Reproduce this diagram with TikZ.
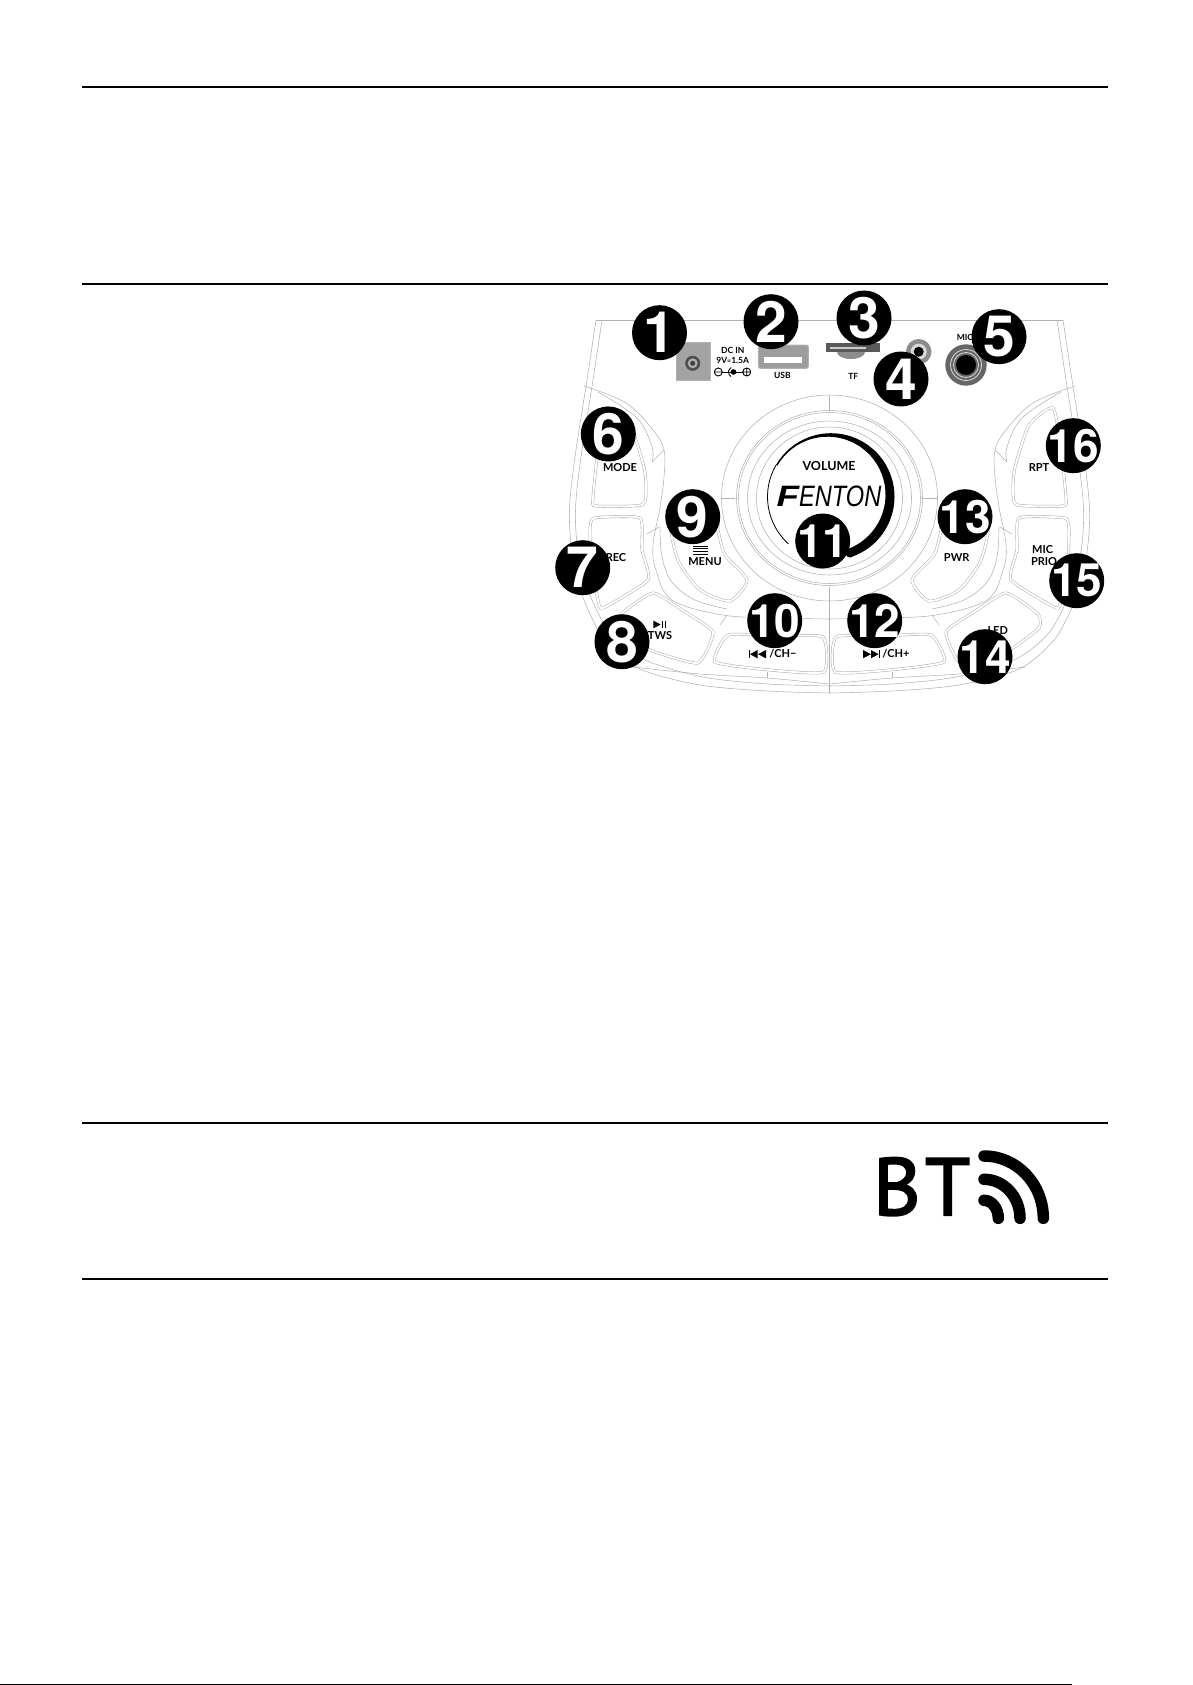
\documentclass[tikz,border=0pt]{standalone}
\usepackage{fontspec}
\usepackage{tikz}
\usetikzlibrary{shapes}
\setmainfont{Lato}
\newfontfamily\digitfont{TeX Gyre Heros}
\newfontfamily\logofont{Liberation Sans}
\newfontfamily\btfont[FakeBold=2.5]{PT Sans}
\definecolor{panelgray}{gray}{0.7}
\definecolor{jackgray}{gray}{0.55}
\tikzset{
  panel/.style={draw=panelgray,line width=0.55pt},
  btn/.style={draw=panelgray,line width=0.55pt,double=white,double distance=1.8pt},
  rulebar/.style={draw=black,line width=2pt},
  badge/.style={shape=circle,fill=black,text=white,inner sep=0pt,minimum size=55pt,font=\digitfont\bfseries\fontsize{57}{57}\selectfont},
  badgetwo/.style={badge,inner sep=-6pt,font=\digitfont\bfseries\fontsize{46}{46}\selectfont},
  lbl/.style={inner sep=0pt,font=\bfseries\fontsize{11}{13}\selectfont},
  smalllbl/.style={inner sep=0pt,font=\bfseries\fontsize{8.5}{10}\selectfont},
  wave/.style={draw=black,line width=11.5pt,line cap=round}
}
% one half of the front panel, used twice
\newcommand{\halfpanel}{
  \draw[panel] plot[smooth,tension=.5] coordinates {(596,320) (587,380) (576,450) (570,500) (570,533) (575,570) (586,605) (605,640) (640,669) (700,685) (767,691) (829.5,693)};
  \draw[panel] plot[smooth,tension=.5] coordinates {(602,320) (593,380) (582,450) (576,500) (576,533) (581,568) (592,600) (611,634) (645,660) (703,677) (767,684) (829.5,686)};
  \draw[panel] plot[smooth,tension=.5] coordinates {(633,667) (700,674) (767,678) (829.5,684)};
  \draw[panel] plot[smooth,tension=.6] coordinates {(584,386) (626,403) (653,430) (664,450) (664,477) (660,507) (653,545) (656,570) (672,600) (723,615) (780,618) (829.5,619)};
  \draw[panel] plot[smooth,tension=.6] coordinates {(598,392) (637,418) (652,447) (652,462)};
  \draw[panel] plot[smooth,tension=.6] coordinates {(660,527) (662,557) (672,582) (695,600) (727,609)};
  \draw[panel] (652,462) -- (664,450);
  \draw[panel] (647,534) -- (659,527);
  \draw[panel] (720,625) -- (727,615);
  \draw[panel] (767,678) -- (767,672);
  \draw[btn] plot[smooth cycle,tension=.35] coordinates {(606,408) (630,425) (644,467) (646,490) (642,505) (596,506) (593,498) (598,450)};
  \draw[btn] plot[smooth cycle,tension=.3] coordinates {(594,518) (640,518) (642,550) (648,580) (603,608) (598,600) (591,560) (590,530)};
  \draw[btn] plot[smooth cycle,tension=.3] coordinates {(653,593) (685,612) (713,632) (698,663) (650,650) (620,628) (621,614)};
  \draw[btn] plot[smooth cycle,tension=.3] coordinates {(728,635) (775,636) (823,637) (824,672) (770,670) (715,662)};
  \draw[btn] plot[smooth cycle,tension=.4] coordinates {(672,520) (678,560) (700,590) (730,601) (747,580) (725,555) (718,530) (716,510)};
}

\begin{document}
\begin{tikzpicture}[x=1pt,y=-1pt]
  \useasboundingbox (0,0) rectangle (1192,1685);

  % page rules
  \draw[rulebar] (82,87) -- (1108,87);
  \draw[rulebar] (82,284) -- (1108,284);
  \draw[rulebar] (82,1123) -- (1108,1123);
  \draw[rulebar] (82,1279) -- (1108,1279);
  \fill[black] (0,1684) rectangle (1072,1685);

  % panel outline
  \draw[panel,line width=0.9pt] (596,320) -- (1063,320);
  \halfpanel
  \begin{scope}[xshift=1659pt,xscale=-1]
    \halfpanel
  \end{scope}

  % volume knob
  \draw[panel] (829.5,498) ellipse[x radius=108,y radius=103];
  \draw[panel] (829.5,498) ellipse[x radius=93,y radius=87.5];
  \draw[panel] (829.5,498) ellipse[x radius=91,y radius=85.5];
  \draw[panel] (829.5,498) ellipse[x radius=82,y radius=77];
  \draw[panel] (829.5,498) ellipse[x radius=73,y radius=71];
  \draw[panel] (829.5,396) -- (829.5,411);
  \draw[panel] (829.5,587) -- (829.5,693);
  \draw[panel] (722,498) -- (735,498);
  \draw[panel] (923,498) -- (937,498);
  \fill[black] (852.7,556.4) arc[start angle=70,end angle=-150,radius=63.5] -- (777.3,465.7) arc[start angle=-150,end angle=70,radius=58] -- cycle;
  \fill[black] (850,553) circle[radius=4.6];
  \draw[black,line width=0.8pt] (776,465) arc[start angle=-150,end angle=-228,radius=63.5];
  \node[lbl,font=\bfseries\fontsize{12.5}{14}\selectfont] (volume) at (829,465.7) {VOLUME};
  \node[inner sep=0pt,font=\logofont\itshape\fontsize{29.5}{30}\selectfont] (logo) at (829,496.7) {\scalebox{1.25}[1]{\bfseries F}\scalebox{.8}[1]{ENTON}};

  % sockets along the top
  \draw[fill=jackgray!80,draw=panelgray,line width=1pt] (676,342) rectangle (710.7,380);
  \fill[black!70] (692.7,363.3) circle[radius=7.5];
  \fill[jackgray!70] (692.7,363.3) circle[radius=5];
  \fill[black!75] (692.7,363.3) circle[radius=2.5];
  \node[smalllbl] (dcin) at (732.7,350) {DC IN};
  \node[smalllbl] (dcvolt) at (732.7,360.5) {9V{\fontsize{7}{8}\selectfont=}1.5A};
  \draw[black,line width=0.9pt] (718.3,372) circle[radius=4] (714.3,372) -- (722.3,372);
  \draw[black,line width=0.9pt] (746.7,372) circle[radius=4] (742.7,372) -- (750.7,372) (746.7,368) -- (746.7,376);
  \draw[black,line width=0.9pt] (722.3,372) -- (742.7,372);
  \fill[black] (733.5,372) circle[radius=2.8];
  \draw[black,line width=0.9pt] (731,367.5) arc[start angle=-120,end angle=-240,radius=5.2];

  \draw[fill=jackgray!85,draw=panelgray,line width=1pt,rounded corners=2pt] (758.3,345) rectangle (808.3,368.3);
  \fill[white] (764,357.3) rectangle (801.7,363.3);
  \node[smalllbl] (usb) at (782.3,375.7) {USB};

  \fill[jackgray] (837,352) arc[start angle=180,end angle=0,x radius=14,y radius=7] -- cycle;
  \fill[black!65] (826,343) rectangle (880,352);
  \fill[black!20] (830,346.5) rectangle (866,348.5);
  \node[smalllbl] (tf) at (853.3,376) {TF};

  \fill[jackgray] (918.7,351.7) circle[radius=12.7];
  \fill[black!15] (918.7,351.7) circle[radius=8];
  \fill[black] (918.7,351.7) circle[radius=5];

  \fill[black!60] (966,365) circle[radius=20.7];
  \draw[black!15,line width=0.8pt] (966,365) circle[radius=15.5];
  \draw[black!15,line width=0.8pt] (966,365) circle[radius=12.5];
  \fill[black] (966,365) circle[radius=10];
  \node[smalllbl] (mic) at (965,337.3) {MIC};

  % button labels
  \node[lbl] (mode) at (620,467.3) {MODE};
  \node[lbl] (rec) at (616,557.7) {REC};
  \node[lbl] (menu) at (705,561.7) {MENU};
  \draw[black,line width=1pt] (693,546) -- (708,546) (693,548.7) -- (708,548.7) (693,551.4) -- (708,551.4) (693,554) -- (708,554);
  \node[lbl] (tws) at (660,635.7) {TWS};
  \fill[black] (653.3,620.7) -- (660.7,624.5) -- (653.3,628.3) -- cycle;
  \draw[black,line width=0.8pt] (662.5,620.7) -- (662.5,628.3) (665.5,620.7) -- (665.5,628.3);
  \node[lbl] (chminus) at (783,654) {/CH\textminus};
  \fill[black] (748.5,650) rectangle (750,658.3);
  \fill[black] (757.5,650) -- (750,654.2) -- (757.5,658.3) -- cycle;
  \fill[black] (766,650) -- (758,654.2) -- (766,658.3) -- cycle;
  \node[lbl] (chplus) at (896,654) {/CH+};
  \fill[black] (863,650) -- (871,654.2) -- (863,658.3) -- cycle;
  \fill[black] (871,650) -- (878.5,654.2) -- (871,658.3) -- cycle;
  \fill[black] (878.5,650) rectangle (880,658.3);
  \node[lbl] (pwr) at (956.7,557.3) {PWR};
  \node[lbl] (led) at (997.7,630.5) {LED};
  \node[lbl] (mic2) at (1042.7,549.3) {MIC};
  \node[lbl] (prio) at (1044,561.7) {PRIO};
  \node[lbl] (rpt) at (1039,467.7) {RPT};

  % numbered badges
  \node[badge] (n1) at (659.5,332.7) {1};
  \node[badge] (n2) at (771,321.7) {2};
  \node[badge] (n3) at (864,318) {3};
  \node[badge] (n4) at (901,379) {4};
  \node[badge] (n5) at (999,336.7) {5};
  \node[badge] (n6) at (608.3,434) {6};
  \node[badge] (n7) at (582.7,567.7) {7};
  \node[badge] (n8) at (622,641.7) {8};
  \node[badge] (n9) at (692.7,516.7) {9};
  \node[badgetwo] (n10) at (774.7,620.7) {10};
  \node[badgetwo] (n11) at (822.7,541) {11};
  \node[badgetwo] (n12) at (874.7,620.7) {12};
  \node[badgetwo] (n13) at (965,516.7) {13};
  \node[badgetwo] (n14) at (985,656.7) {14};
  \node[badgetwo] (n15) at (1076.7,580.7) {15};
  \node[badgetwo] (n16) at (1073.3,445.7) {16};

  % BT symbol
  \node[inner sep=0pt,anchor=base west,font=\btfont\fontsize{81}{81}\selectfont] (btb) at (873,1215) {B};
  \node[inner sep=0pt,anchor=base west,font=\btfont\fontsize{81}{81}\selectfont] (btt) at (925,1215) {T};
  \draw[wave] (984,1200.3) arc[start angle=-90,end angle=0,x radius=14.3,y radius=18];
  \draw[wave] (984,1179.3) arc[start angle=-90,end angle=0,x radius=36,y radius=39];
  \draw[wave] (984,1156) arc[start angle=-90,end angle=0,x radius=59.3,y radius=62.3];
\end{tikzpicture}
\end{document}
